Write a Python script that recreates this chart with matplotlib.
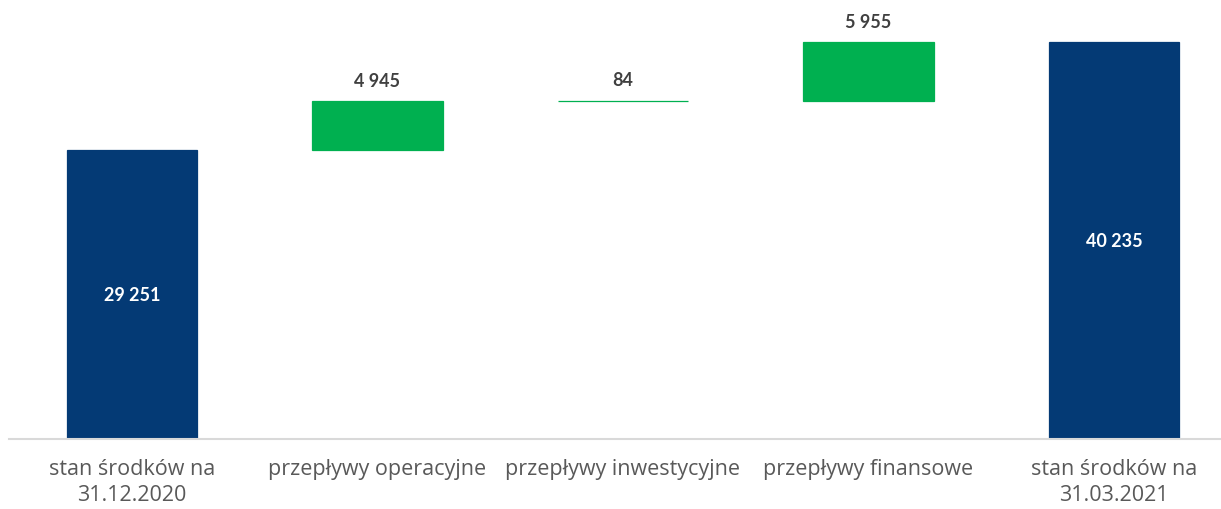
import matplotlib.pyplot as plt
import numpy as np

plt.rcParams['font.family'] = ['Lato', 'DejaVu Sans']

categories = ['stan środków na\n31.12.2020', 'przepływy operacyjne', 'przepływy inwestycyjne',
              'przepływy finansowe', 'stan środków na\n31.03.2021']
values = [29251, 4945, 84, 5955, 40235]
labels = ['29 251', '4 945', '84', '5 955', '40 235']
is_total = [True, False, False, False, True]

blue = '#043A75'
green = '#00B050'

# waterfall bottoms
bottoms = []
running = 0
for v, t in zip(values, is_total):
    if t:
        bottoms.append(0)
        running = v
    else:
        bottoms.append(running)
        running += v

fig = plt.figure(figsize=(12.21, 5.10), dpi=100)
ax = fig.add_axes([9 / 1221, 70 / 510, 1212 / 1221, 440 / 510])

x = np.arange(len(values))
colors = [blue if t else green for t in is_total]
ax.bar(x, values, bottom=bottoms, width=0.53, color=colors, edgecolor=colors, linewidth=0.9)

for i, (v, b, t, lab) in enumerate(zip(values, bottoms, is_total, labels)):
    if t:
        ax.text(i, b + v / 2, lab, ha='center', va='center', color='white',
                fontsize=13, fontweight='bold')
    else:
        ax.text(i, b + v + 2100, lab, ha='center', va='center', color='#404040',
                fontsize=13, fontweight='bold')

ax.set_xlim(-0.501, -0.501 + 1212 / 245.5)
ax.set_ylim(0, 44572)
ax.set_xticks(x)
ax.set_xticklabels(categories, fontsize=15.5, color='#595959', linespacing=1.3,
                   family=['Open Sans', 'DejaVu Sans'])
ax.tick_params(axis='x', length=0, pad=14)
ax.set_yticks([])
for s in ['top', 'right', 'left']:
    ax.spines[s].set_visible(False)
ax.spines['bottom'].set_color('#d9d9d9')
ax.spines['bottom'].set_linewidth(1.5)

fig.savefig('out.png', dpi=100)
